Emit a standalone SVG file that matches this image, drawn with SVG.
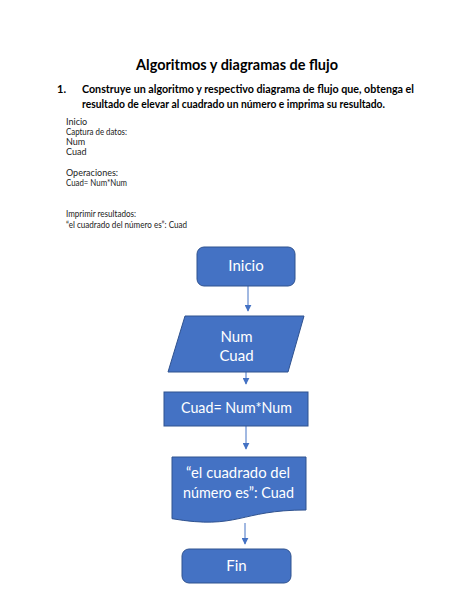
<svg xmlns="http://www.w3.org/2000/svg" width="474" height="613" viewBox="0 0 474 613">
<defs>
<style>
.t{font-family:"Lato","Liberation Sans",sans-serif;fill:#000}
.h{font-size:16px;font-weight:bold}
.q{font-size:11px;font-weight:bold}
.b{font-size:9px;fill:#222}
.s{fill:#4472C4;stroke:#2F528F;stroke-width:1}
.w{font-family:"Lato","Liberation Sans",sans-serif;font-size:15px;fill:#fff;text-anchor:middle}
.c{stroke:#4472C4;stroke-width:1;fill:none;marker-end:url(#ah)}
</style>
<marker id="ah" viewBox="0 0 10 10" refX="9" refY="5" markerWidth="7" markerHeight="7" markerUnits="userSpaceOnUse" orient="auto">
<path d="M0,0 L10,5 L0,10 Z" fill="#4472C4"/>
</marker>
</defs>
<rect width="474" height="613" fill="#fff"/>
<g id="text">
<text class="t h" x="136" y="70" textLength="202" lengthAdjust="spacingAndGlyphs">Algoritmos y diagramas de flujo</text>
<text class="t q" x="57" y="93">1.</text>
<text class="t q" x="82" y="93" textLength="332" lengthAdjust="spacingAndGlyphs">Construye un algoritmo y respectivo diagrama de flujo que, obtenga el</text>
<text class="t q" x="82" y="108" textLength="303" lengthAdjust="spacingAndGlyphs">resultado de elevar al cuadrado un número e imprima su resultado.</text>
<text class="t b" x="66" y="125">Inicio</text>
<text class="t b" x="66" y="135" textLength="61" lengthAdjust="spacingAndGlyphs">Captura de datos:</text>
<text class="t b" x="66" y="145">Num</text>
<text class="t b" x="66" y="155">Cuad</text>
<text class="t b" x="66" y="176">Operaciones:</text>
<text class="t b" x="66" y="186" textLength="61" lengthAdjust="spacingAndGlyphs">Cuad= Num*Num</text>
<text class="t b" x="66" y="217" textLength="70" lengthAdjust="spacingAndGlyphs">Imprimir resultados:</text>
<text class="t b" x="66" y="228" textLength="121" lengthAdjust="spacingAndGlyphs">“el cuadrado del número es”: Cuad</text>
</g>
<g id="connectors">
<line class="c" x1="248" y1="286" x2="248" y2="311"/>
<line class="c" x1="246" y1="372" x2="246" y2="384"/>
<line class="c" x1="246" y1="426" x2="246" y2="449"/>
<line class="c" x1="245" y1="523" x2="245" y2="544"/>
</g>
<g id="inicio">
<rect class="s" x="197" y="247" width="98" height="39" rx="7"/>
<text class="w" x="246" y="271">Inicio</text>
</g>
<g id="entrada">
<polygon class="s" points="185,316 304,316 288,372 168,372"/>
<text class="w" x="236.5" y="342">Num</text>
<text class="w" x="236.5" y="361">Cuad</text>
</g>
<g id="proceso">
<rect class="s" x="164" y="392" width="144" height="34"/>
<text class="w" x="236.5" y="413" textLength="111" lengthAdjust="spacingAndGlyphs">Cuad= Num*Num</text>
</g>
<g id="salida">
<path class="s" d="M172,457 H306 V510 C239,510 239,530 172,518.7 Z"/>
<text class="w" x="238" y="478" textLength="104" lengthAdjust="spacingAndGlyphs">“el cuadrado del</text>
<text class="w" x="238.5" y="498" textLength="111" lengthAdjust="spacingAndGlyphs">número es”: Cuad</text>
</g>
<g id="fin">
<rect class="s" x="182" y="549" width="109" height="34" rx="7"/>
<text class="w" x="236.5" y="571">Fin</text>
</g>
</svg>
